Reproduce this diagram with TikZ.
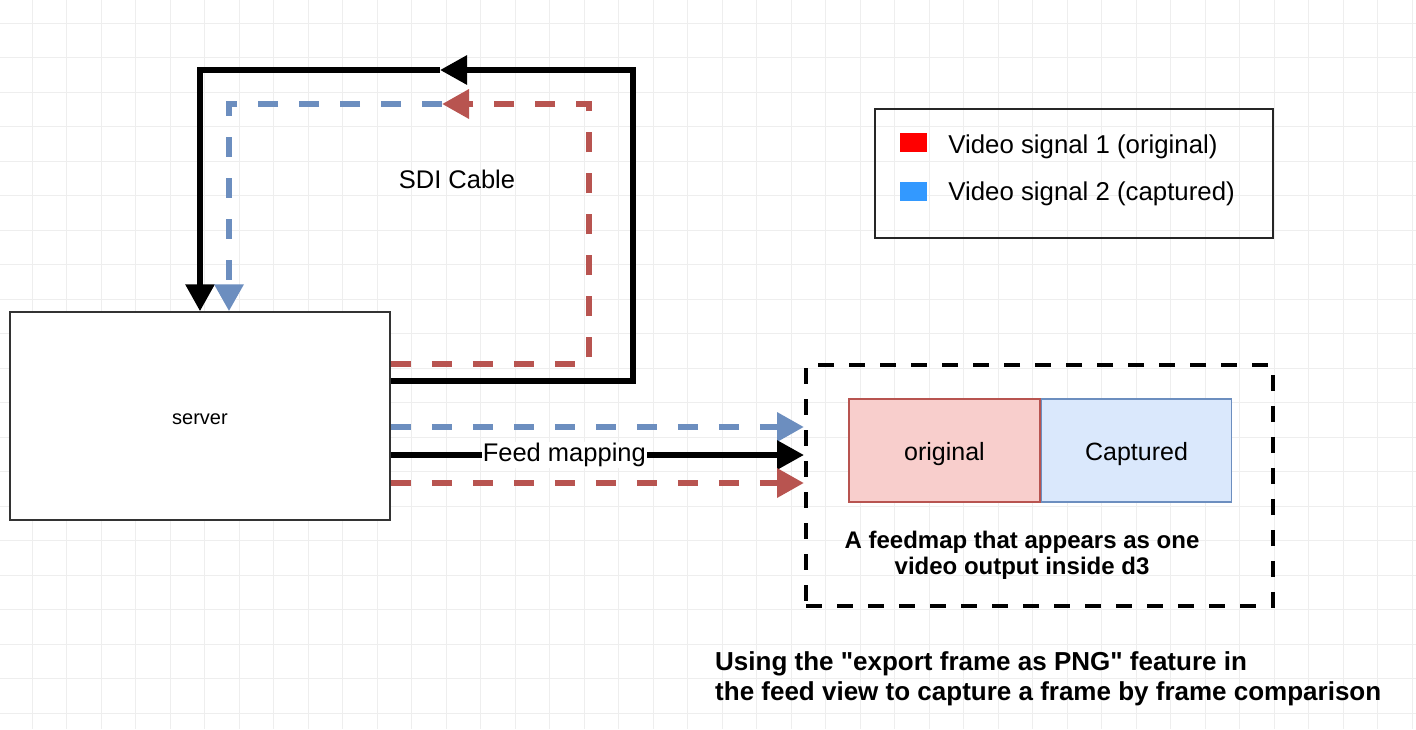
\documentclass[tikz,border=0pt]{standalone}
\usepackage{fontspec}
\setmainfont{Liberation Sans}[Ligatures=TeXOff]
\usetikzlibrary{arrows.meta, positioning, calc}
\definecolor{sigred}{RGB}{184,84,80}
\definecolor{sigblue}{RGB}{108,142,191}
\definecolor{origfill}{RGB}{248,206,204}
\definecolor{captfill}{RGB}{218,232,252}
\definecolor{legred}{RGB}{255,0,0}
\definecolor{legblue}{RGB}{51,153,255}
\definecolor{gridgray}{RGB}{238,238,238}

\begin{document}
\begin{tikzpicture}[
        x=1pt, y=-1pt,
        gridline/.style={draw=gridgray, line width=0.8pt},
        serverbox/.style={rectangle, draw=black!80, line width=1.5pt, fill=white, minimum width=380pt, minimum height=208pt, font=\fontsize{20}{24}\selectfont},
        feedbox/.style={rectangle, draw=black, line width=4pt, dash pattern=on 16pt off 15pt, minimum width=467pt, minimum height=241pt},
        origbox/.style={rectangle, draw=sigred, fill=origfill, line width=1.5pt, minimum width=191pt, minimum height=103pt, font=\fontsize{25}{30}\selectfont},
        captbox/.style={rectangle, draw=sigblue, fill=captfill, line width=1.5pt, minimum width=190pt, minimum height=103pt, font=\fontsize{25}{30}\selectfont},
        legendbox/.style={rectangle, draw=black!85, line width=2pt, minimum width=398pt, minimum height=129pt},
        legkey/.style={rectangle, draw=none, minimum width=27pt, minimum height=19pt, inner sep=0pt},
        legtext/.style={inner sep=0pt, anchor=west, font=\fontsize{25.8}{30}\selectfont},
        plain/.style={inner sep=0pt, font=\fontsize{25.5}{30}\selectfont},
        boldnote/.style={inner sep=0pt, font=\bfseries\fontsize{24}{26}\selectfont},
        blackline/.style={draw=black, line width=6pt, -{Triangle[width=28pt, length=27pt]}},
        redsig/.style={draw=sigred, line width=6.5pt, dash pattern=on 20pt off 21pt, -{Triangle[width=28pt, length=27pt]}},
        bluesig/.style={draw=sigblue, line width=6.5pt, dash pattern=on 20pt off 21pt, -{Triangle[width=28pt, length=27pt]}}
    ]
        \useasboundingbox (0,0) rectangle (1416,729);
        % background grid
        \foreach \gx in {32,66.5,...,1416} \draw[gridline] (\gx,0) -- (\gx,729);
        \foreach \gy in {23,57.5,...,729} \draw[gridline] (0,\gy) -- (1416,\gy);

        \node[serverbox] (server) at (200,416) {\raisebox{-3pt}[\height][\depth]{server}};
        \node[feedbox] (feedmap) at (1039.5,485.5) {};
        \node[origbox] (orig) at (944.5,450.5) {\raisebox{-4pt}[\height][\depth]{original}};
        \node[captbox, right=0pt of orig] (capt) {\raisebox{-4pt}[\height][\depth]{Captured}};
        \node[boldnote, align=center] (feedcap) at (1022,555) {A feedmap that appears as one\\video output inside d3};
        \node[plain] (sdi) at (457,179) {SDI Cable};

        % legend
        \node[legendbox] (legend) at (1074,173.5) {};
        \node[legkey, fill=legred] (keyred) at (913.5,142.5) {};
        \node[legkey, fill=legblue] (keyblue) at (913.5,191) {};
        \node[legtext, right=21pt of keyred, yshift=-4pt] (txtred) {Video signal 1 (original)};
        \node[legtext, right=21pt of keyblue, yshift=-3pt] (txtblue) {Video signal 2 (captured)};

        % SDI loop
        \coordinate (loopcorner) at (633,70);
        \coordinate (loopmid) at (440,70);
        \coordinate (redcorner) at (589,104);
        \coordinate (redtip) at (442,104);
        \draw[blackline] ([yshift=35pt]server.east) -| (loopcorner) -- (loopmid);
        \draw[blackline] (loopmid) -| (server.north);
        \draw[bluesig] (redtip) -| ([xshift=29pt]server.north);
        \draw[redsig] ([yshift=52pt]server.east) -| (redcorner) -- (redtip);

        % feed mapping
        \coordinate (fblue) at ([yshift=-11pt]server.east);
        \coordinate (fblack) at ([yshift=-39pt]server.east);
        \coordinate (fred) at ([yshift=-67pt]server.east);
        \draw[bluesig] (fblue) -- (fblue -| feedmap.west);
        \draw[blackline] (fblack) -- node[pos=0.42, fill=white, inner sep=1pt, font=\fontsize{25.5}{30}\selectfont] {Feed mapping} (fblack -| feedmap.west);
        \draw[redsig] (fred) -- (fred -| feedmap.west);

        \node[boldnote, font=\bfseries\fontsize{26}{30}\selectfont, align=left, anchor=north west] (note) at (715,651) {Using the "export frame as PNG" feature in\\the feed view to capture a frame by frame comparison};
    \end{tikzpicture}
\end{document}
